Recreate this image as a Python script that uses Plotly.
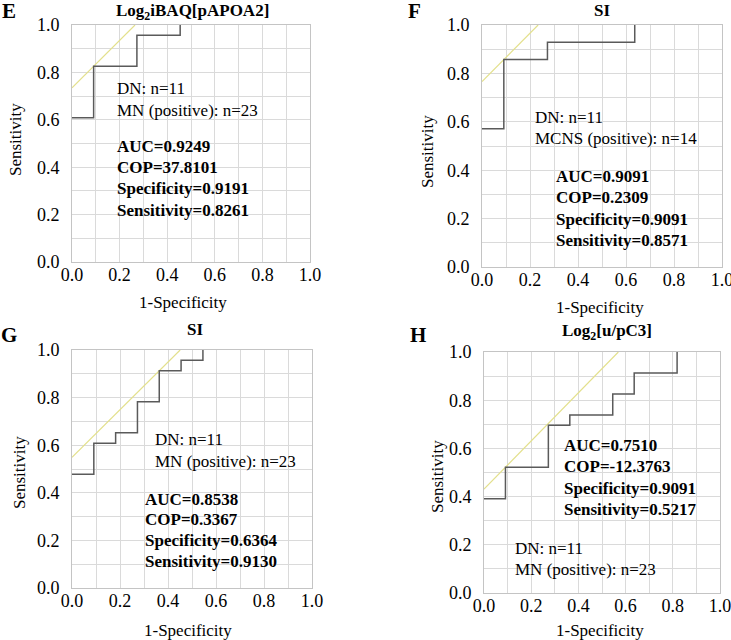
import plotly.graph_objects as go

# ---------------- data ----------------
panel_letters = ["E", "F", "G", "H"]
panel_titles = ["<b>Log<sub>2</sub>iBAQ[pAPOA2]</b>", "<b>SI</b>", "<b>SI</b>", "<b>Log<sub>2</sub>[u/pC3]</b>"]

E_fpr = [0.0, 0.0909, 0.2727, 0.4545]
E_tpr = [0.6087, 0.8261, 0.9565, 1.0]
F_fpr = [0.0, 0.0909, 0.2727, 0.6364]
F_tpr = [0.5714, 0.8571, 0.9286, 1.0]
G_fpr = [0.0, 0.0909, 0.1818, 0.2727, 0.3636, 0.4545, 0.5455]
G_tpr = [0.4783, 0.6087, 0.6522, 0.7826, 0.9130, 0.9565, 1.0]
H_fpr = [0.0, 0.0909, 0.2727, 0.3636, 0.5455, 0.6364, 0.8182]
H_tpr = [0.3913, 0.5217, 0.6957, 0.7391, 0.8261, 0.9130, 1.0]

# tangent (cut-off) lines: endpoints
E_tan_x = [0.0, 0.2648]
E_tan_y = [0.7352, 1.0]
F_tan_x = [0.0, 0.2338]
F_tan_y = [0.7662, 1.0]
G_tan_x = [0.0, 0.4506]
G_tan_y = [0.5494, 1.0]
H_tan_x = [0.0, 0.5692]
H_tan_y = [0.4308, 1.0]

group_lines = [["DN: n=11", "MN (positive): n=23"],
               ["DN: n=11", "MCNS (positive): n=14"],
               ["DN: n=11", "MN (positive): n=23"],
               ["DN: n=11", "MN (positive): n=23"]]
stat_lines = [["AUC=0.9249", "COP=37.8101", "Specificity=0.9191", "Sensitivity=0.8261"],
              ["AUC=0.9091", "COP=0.2309", "Specificity=0.9091", "Sensitivity=0.8571"],
              ["AUC=0.8538", "COP=0.3367", "Specificity=0.6364", "Sensitivity=0.9130"],
              ["AUC=0.7510", "COP=-12.3763", "Specificity=0.9091", "Sensitivity=0.5217"]]

tick_vals = [0.0, 0.2, 0.4, 0.6, 0.8, 1.0]
tick_text = ["0.0", "0.2", "0.4", "0.6", "0.8", "1.0"]

# ---------------- layout geometry (pixels) ----------------
W, H = 731, 640
FONT = "Liberation Serif, Times New Roman, serif"
# plot boxes: left, right, top, bottom in px
boxes = [(72, 310, 25, 262), (482, 722, 25, 267), (72, 312, 350, 588), (484, 720, 352, 593)]
# text placement (data coords): group text x, y1, y2 ; stats x, y list
group_pos = [(0.18, [0.730, 0.641]), (0.214, [0.618, 0.531]), (0.336, [0.622, 0.531]), (0.124, [0.183, 0.097])]
stat_pos = [(0.18, [0.489, 0.400, 0.312, 0.219]), (0.298, [0.372, 0.287, 0.196, 0.110]),
            (0.294, [0.373, 0.287, 0.200, 0.112]), (0.329, [0.611, 0.526, 0.433, 0.347])]
letter_pos = [(9, 11), (415, 11), (9, 335), (418, 335)]
title_pos = [(192, 12), (602, 10), (195, 329), (607, 332)]
xtitle_pos = [(183, 302), (600, 307), (188, 630), (600, 630)]
ytitle_pos = [(15, 140), (427, 152), (19, 473), (437, 477)]

fprs = [E_fpr, F_fpr, G_fpr, H_fpr]
tprs = [E_tpr, F_tpr, G_tpr, H_tpr]
tan_xs = [E_tan_x, F_tan_x, G_tan_x, H_tan_x]
tan_ys = [E_tan_y, F_tan_y, G_tan_y, H_tan_y]

fig = go.Figure()
annotations = []

def px_x(v):
    return v / W

def px_y(v):
    return 1 - v / H

for i in range(4):
    n = "" if i == 0 else str(i + 1)
    xa, ya = "x" + n, "y" + n
    l, r, t, b = boxes[i]
    axis_common = dict(
        range=[0, 1], tickvals=tick_vals, ticktext=tick_text,
        showgrid=True, gridcolor="#dadada", gridwidth=1,
        minor=dict(dtick=0.1, tick0=0, showgrid=True, gridcolor="#dadada", gridwidth=1),
        showline=True, linecolor="#c4c4c4", linewidth=1, mirror=True,
        zeroline=False, ticks="", fixedrange=True, automargin=False,
        ticklabeloverflow="allow",
        tickfont=dict(family=FONT, size=18, color="black"),
    )
    fig.update_layout(**{
        "xaxis" + n: dict(domain=[px_x(l), px_x(r)], anchor=ya, ticklabelstandoff=-4, **axis_common),
        "yaxis" + n: dict(domain=[px_y(b), px_y(t)], anchor=xa, ticklabelstandoff=8, **axis_common),
    })
    fig.add_trace(go.Scatter(x=tan_xs[i], y=tan_ys[i], mode="lines", xaxis=xa, yaxis=ya,
                             line=dict(color="#e3e08c", width=1.2), showlegend=False, hoverinfo="skip"))
    fig.add_trace(go.Scatter(x=fprs[i], y=tprs[i], mode="lines", xaxis=xa, yaxis=ya, line_shape="hv",
                             line=dict(color="#5a5a5a", width=1.5), showlegend=False, cliponaxis=False))
    gx, gys = group_pos[i]
    for txt, yy in zip(group_lines[i], gys):
        annotations.append(dict(xref=xa, yref=ya, x=gx, y=yy, text=txt, showarrow=False,
                                xanchor="left", yanchor="middle",
                                font=dict(family=FONT, size=17, color="black")))
    sx, sys_ = stat_pos[i]
    for txt, yy in zip(stat_lines[i], sys_):
        annotations.append(dict(xref=xa, yref=ya, x=sx, y=yy, text="<b>" + txt + "</b>", showarrow=False,
                                xanchor="left", yanchor="middle",
                                font=dict(family=FONT, size=17, color="black")))
    lx, ly = letter_pos[i]
    annotations.append(dict(xref="paper", yref="paper", x=px_x(lx), y=px_y(ly), text="<b>" + panel_letters[i] + "</b>",
                            showarrow=False, xanchor="center", yanchor="middle",
                            font=dict(family=FONT, size=21, color="black")))
    tx, ty = title_pos[i]
    annotations.append(dict(xref="paper", yref="paper", x=px_x(tx), y=px_y(ty), text=panel_titles[i],
                            showarrow=False, xanchor="center", yanchor="middle",
                            font=dict(family=FONT, size=17, color="black")))
    xx, xy = xtitle_pos[i]
    annotations.append(dict(xref="paper", yref="paper", x=px_x(xx), y=px_y(xy), text="1-Specificity",
                            showarrow=False, xanchor="center", yanchor="middle",
                            font=dict(family=FONT, size=17, color="black")))
    yx, yy_ = ytitle_pos[i]
    annotations.append(dict(xref="paper", yref="paper", x=px_x(yx), y=px_y(yy_), text="Sensitivity",
                            showarrow=False, xanchor="center", yanchor="middle", textangle=-90,
                            font=dict(family=FONT, size=17, color="black")))

fig.update_layout(
    width=W, height=H, margin=dict(l=0, r=0, t=0, b=0, autoexpand=False),
    paper_bgcolor="white", plot_bgcolor="white",
    annotations=annotations, showlegend=False,
)

fig.write_html(
    "out.html",
    config={"displayModeBar": False},
    post_script="document.body.style.margin='0';document.body.style.overflow='hidden';",
)
